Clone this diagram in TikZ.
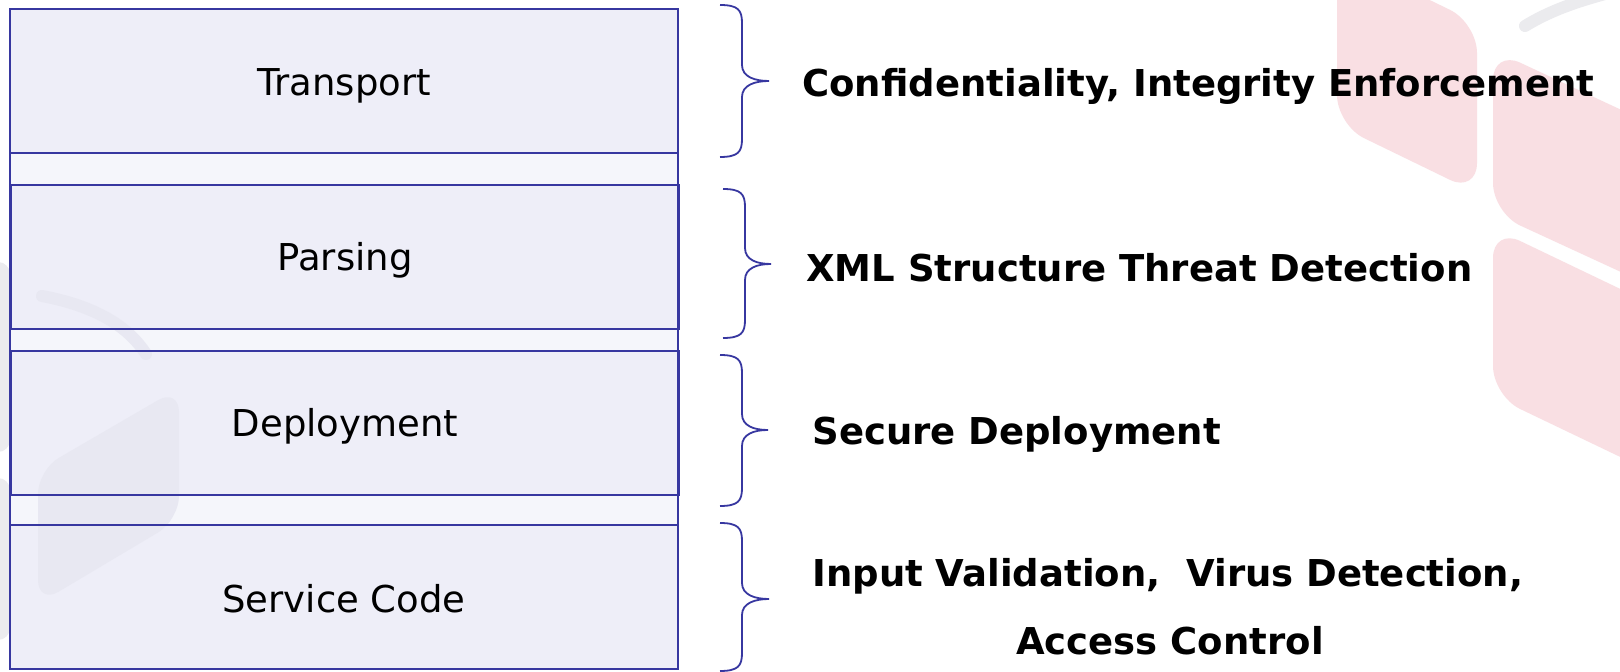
\documentclass[tikz,border=0pt]{standalone}
\usepackage{fontspec}
\setmainfont{DejaVu Sans}
\definecolor{boxfill}{RGB}{238,238,248}
\definecolor{gapfill}{RGB}{245,246,251}
\definecolor{edge}{RGB}{55,55,160}
\definecolor{wmpink}{RGB}{249,223,227}
\definecolor{wmgrey}{RGB}{232,232,242}
\definecolor{wmgreyout}{RGB}{235,235,238}
\newcommand{\mybrace}[6]{%
  \draw[brc] (#1,#2) .. controls ({#5-4},#2) and (#5,{#2+5}) .. (#5,{#2+18})
    -- (#5,{#4-16}) .. controls (#5,{#4-4}) and ({#6-14},#4) .. (#6,#4)
    .. controls ({#6-14},#4) and (#5,{#4+4}) .. (#5,{#4+16})
    -- (#5,{#3-18}) .. controls (#5,{#3-5}) and ({#5-4},#3) .. (#1,#3);}
\begin{document}
\begin{tikzpicture}[x=0.5pt,y=-0.5pt,
  layer/.style={fill=boxfill, minimum width=334pt,
    minimum height=72pt, inner sep=0pt, outer sep=0pt},
  border/.style={draw=edge, line width=1pt},
  lbl/.style={anchor=base, inner sep=0pt, font=\fontsize{18.5pt}{22pt}\selectfont},
  rt/.style={anchor=base west, inner sep=0pt, font=\fontsize{18.5pt}{22pt}\selectfont\bfseries},
  brc/.style={draw=edge, line width=0.9pt}]
\useasboundingbox (0,0) rectangle (1620,672);
\fill[white] (0,0) rectangle (1620,672);
% watermark (right)
\fill[wmpink, rounded corners=15pt] (1337,-45) -- (1337,125) -- (1477,193) -- (1477,23) -- cycle;
\fill[wmpink, rounded corners=15pt] (1493,50) -- (1493,213) -- (1660,290) -- (1660,128) -- cycle;
\fill[wmpink, rounded corners=15pt] (1493,228) -- (1493,396) -- (1660,476) -- (1660,308) -- cycle;
\draw[wmgreyout, line width=6pt, line cap=round] (1525,26) .. controls (1548,12) and (1572,3) .. (1605,-6);
% watermark (left, outside the column)
\fill[wmgreyout, rounded corners=6pt] (-20,262) rectangle (10,452);
\fill[wmgreyout, rounded corners=6pt] (-20,478) rectangle (10,640);
% column fills
\fill[gapfill] (10,9) rectangle (678,669);
\node[layer] (transport) at (344,81) {};
\node[layer] (parsing) at (345,257) {};
\node[layer] (deployment) at (345,423) {};
\node[layer] (service) at (344,597) {};
% faint watermark over the column
\fill[wmgrey, rounded corners=12pt] (38,470) -- (179,388) -- (179,520) -- (38,604) -- cycle;
\draw[wmgrey, line width=6pt, line cap=round] (42,296) .. controls (95,306) and (128,326) .. (146,354);
% column borders
\draw[border] (10,9) rectangle (678,669);
\foreach \n in {transport,parsing,deployment,service}
  \draw[border] (\n.south west) rectangle (\n.north east);
% layer labels
\node[lbl] (transportlbl) at (344,96) {Transport};
\node[lbl] (parsinglbl) at (345,271) {Parsing};
\node[lbl] (deploymentlbl) at (345,437) {Deployment};
\node[lbl] (servicelbl) at (344,612) {Service Code};
% braces
\mybrace{720}{5}{157}{81}{742}{769}
\mybrace{723}{189}{338}{264}{745}{771}
\mybrace{720}{355}{506}{430}{742}{768}
\mybrace{720}{523}{671}{599}{742}{769}
% right texts
\node[rt] (conf) at (802,97) {Confidentiality, Integrity Enforcement};
\node[rt] (xml) at (806,282) {XML Structure Threat Detection};
\node[rt] (secdep) at (812,445) {Secure Deployment};
\node[rt] (input) at (812,587) {Input Validation,\ \ Virus Detection,};
\node[lbl, font=\fontsize{18.5pt}{22pt}\selectfont\bfseries] (access) at (1170,654) {Access Control};
\end{tikzpicture}
\end{document}
